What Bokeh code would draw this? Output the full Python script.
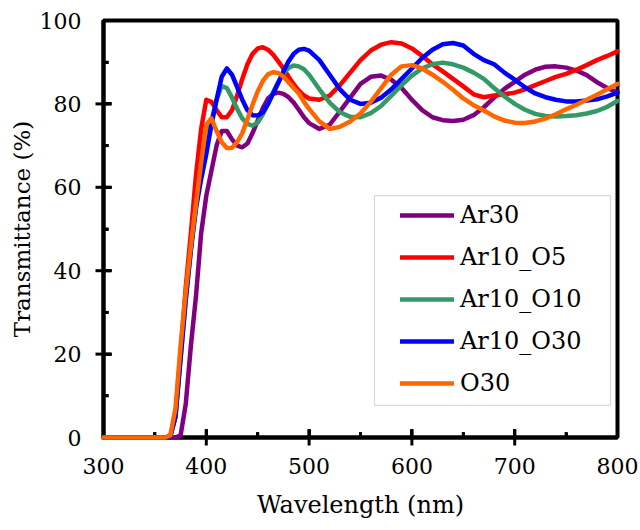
import math
from bokeh.plotting import figure
from bokeh.models import Range1d, BoxAnnotation, Legend, LegendItem, SingleIntervalTicker
from bokeh.embed import file_html
from bokeh.resources import INLINE

wavelength = [300, 360, 365, 370, 375, 380, 385, 390, 395, 400, 405, 410, 415, 420, 425,
              430, 435, 440, 445, 450, 455, 460, 465, 470, 475, 480, 485, 490, 495, 500,
              510, 520, 530, 540, 550, 560, 570, 580, 590, 600, 610, 620, 630, 640, 650,
              660, 670, 680, 690, 700, 710, 720, 730, 740, 750, 760, 770, 780, 790, 800]

ar30 = [0, 0, 0, 0, 0.5, 8, 22, 34, 49, 58, 64, 70, 73.5, 73.5, 71.5,
        70, 69.6, 70.5, 73, 76, 79, 81.3, 82.4, 82.7, 82.4, 81.6, 80.3, 78.6, 76.8, 75.4,
        74, 75, 78.2, 81.5, 84.8, 86.5, 86.8, 85.8, 83.8, 81, 78.5, 76.8, 76.1, 75.9, 76.2,
        77.3, 79.2, 81.5, 83.6, 85.3, 87, 88.2, 88.9, 89, 88.7, 88, 86.9, 85.2, 83.8, 82.8]

ar10_o5 = [0, 0, 0.3, 5, 20, 36, 49, 63, 74, 81, 80.5, 78.5, 76.8, 76.8, 78.5,
           82, 86, 89.5, 92, 93.3, 93.6, 93, 91.8, 90.2, 88.5, 86.5, 84.7, 83.2, 82, 81.3,
           81, 82, 84.5, 87.5, 90.5, 92.8, 94.2, 94.8, 94.5, 93.3, 91.5, 89.5, 87.8, 86, 84.2,
           82.3, 81.6, 82, 82.3, 82.7, 83.5, 84.5, 85.5, 86.5, 87.2, 88.2, 89.3, 90.5, 91.5, 92.6]

ar10_o10 = [0, 0, 0.3, 5, 19, 33, 45, 56, 63, 70, 76, 81, 84.3, 83.8, 81.5,
            78.8, 76.5, 75.2, 74.8, 75.5, 77.5, 80, 82.8, 85.3, 87.3, 88.6, 89.2, 89, 88.3, 87,
            83.5, 80.3, 78, 76.9, 76.8, 77.8, 79.5, 82, 84.5, 86.8, 88.5, 89.5, 89.9, 89.5, 88.7,
            87.5, 86, 83.8, 81.8, 80, 78.6, 77.6, 77.1, 77, 77.1, 77.3, 77.7, 78.3, 79.3, 80.7]

ar10_o30 = [0, 0, 0.3, 5, 19, 33, 45, 55, 62, 68, 75, 81, 86.5, 88.5, 87,
            84, 81, 78.5, 77.3, 77.2, 78, 80, 82.5, 85, 87.8, 90.2, 92, 93, 93.2, 92.8,
            90.5, 87, 83.5, 81, 80, 80.3, 81.5, 83.5, 86, 88.5, 91, 93, 94.3, 94.6, 94,
            92, 90.5, 89.5, 87.5, 85.8, 84, 82.5, 81.6, 81, 80.6, 80.6, 80.8, 81.1, 81.8, 82.7]

o30 = [0, 0, 0.5, 7, 22, 35, 46, 56, 66, 75, 76.5, 73.5, 70.8, 69.4, 69.5,
       70.8, 73, 76.3, 79.8, 83, 85.5, 87.1, 87.6, 87.4, 86.5, 85.2, 83.8, 82.5, 80.5, 78.8,
       75.8, 74, 74.5, 75.8, 77.7, 80.5, 83.7, 87, 89, 89.3, 88.5, 87, 85.3, 83.4, 81.3,
       79.7, 78.4, 77, 76, 75.5, 75.4, 75.8, 76.5, 77.5, 78.7, 79.8, 81, 82.2, 83.5, 84.8]

series_names = ["Ar30", "Ar10_O5", "Ar10_O10", "Ar10_O30", "O30"]
series_values = [ar30, ar10_o5, ar10_o10, ar10_o30, o30]
series_colors = ["#800080", "#FF0000", "#339966", "#0000FF", "#FF6600"]

x_major_ticks = [400, 500, 600, 700]
x_minor_ticks = [350, 450, 550, 650, 750]
y_major_ticks = [20, 40, 60, 80]
y_minor_ticks = [10, 30, 50, 70, 90]

FONT = "DejaVu Serif"

p = figure(width=640, height=530, output_backend="svg", toolbar_location=None,
           x_range=Range1d(300, 800), y_range=Range1d(0, 100),
           min_border_left=103, min_border_right=23, min_border_top=20, min_border_bottom=93)
p.grid.visible = False
p.outline_line_color = "black"
p.outline_line_width = 4
p.background_fill_color = "white"
p.border_fill_color = "white"

p.xaxis.ticker = SingleIntervalTicker(interval=100, num_minor_ticks=2)
p.yaxis.ticker = SingleIntervalTicker(interval=20, num_minor_ticks=2)
for ax in (p.xaxis, p.yaxis):
    ax.axis_line_width = 4
    ax.axis_line_color = "black"
    ax.major_tick_in = 8
    ax.major_tick_out = 0
    ax.minor_tick_in = 5
    ax.minor_tick_out = 0
    ax.major_tick_line_width = 3
    ax.minor_tick_line_width = 3
    ax.major_label_text_font = FONT
    ax.major_label_text_font_size = "22px"
    ax.major_label_text_color = "black"
    ax.axis_label_text_font = FONT
    ax.axis_label_text_font_style = "normal"
    ax.axis_label_text_color = "black"
p.xaxis.axis_label = "Wavelength (nm)"
p.yaxis.axis_label = "Transmittance (%)"
p.xaxis.axis_label_text_font_size = "24px"
p.yaxis.axis_label_text_font_size = "23px"
p.xaxis.major_label_standoff = 20
p.xaxis.axis_label_standoff = 14
p.yaxis.major_label_standoff = 22
p.yaxis.axis_label_standoff = 2

# inward tick marks at the tick values, one short line each
for t in x_major_ticks:
    p.line([t, t], [0, 2.0], line_color="black", line_width=3, level="overlay")
for t in x_minor_ticks:
    p.line([t, t], [0, 1.3], line_color="black", line_width=3, level="overlay")
for t in y_major_ticks:
    p.line([300, 307.8], [t, t], line_color="black", line_width=3, level="overlay")
for t in y_minor_ticks:
    p.line([300, 305], [t, t], line_color="black", line_width=3, level="overlay")
p.scatter(x=x_major_ticks, y=[0] * 4, marker="dash", size=16, angle=math.pi / 2,
          line_color="black", line_width=3, level="overlay")
p.scatter(x=[300] * 4, y=y_major_ticks, marker="dash", size=16,
          line_color="black", line_width=3, level="overlay")

renderers = []
for name, vals, col in zip(series_names, series_values, series_colors):
    r = p.line(wavelength, vals, line_color=col, line_width=4.5, line_cap="round", line_join="round",
               level="overlay")
    renderers.append(r)

box = BoxAnnotation(left=563.6, right=793.2, bottom=7.7, top=58.0,
                    fill_color="white", fill_alpha=1.0, line_color="#808080", line_width=1.2)
p.add_layout(box)

legend = Legend(items=[LegendItem(label=n, renderers=[r]) for n, r in zip(series_names, renderers)],
                location=(292, 33), padding=5, spacing=10, glyph_width=54, glyph_height=32,
                label_height=32, label_standoff=6, label_text_font=FONT, label_text_font_size="24px",
                label_text_color="black", border_line_alpha=0, background_fill_alpha=0,
                margin=0)
p.add_layout(legend, "center")

open("out.html", "w").write(file_html(p, INLINE))
